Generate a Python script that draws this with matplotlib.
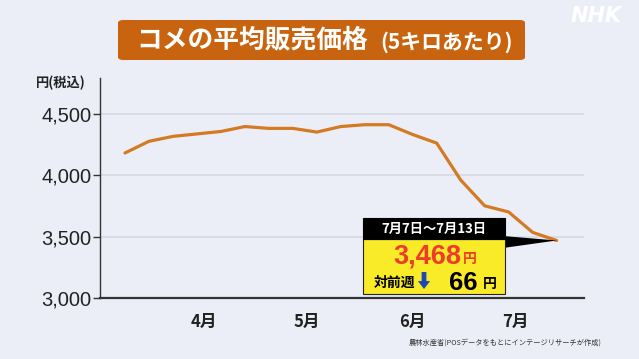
import numpy as np
import pandas as pd
import matplotlib
matplotlib.use("Agg")
import matplotlib.pyplot as plt
import matplotlib.dates as mdates
from matplotlib.patches import FancyBboxPatch, Rectangle, Polygon, FancyArrow

plt.rcParams['font.family'] = ['Noto Sans CJK JP', 'DejaVu Sans']

# weekly average price (5kg, tax incl.), weeks ending on Sunday
week_end = pd.date_range("2025-03-09", "2025-07-13", freq="7D")
price = [4180, 4275, 4315, 4335, 4355, 4395, 4380, 4380, 4350, 4395,
         4410, 4410, 4330, 4260, 3960, 3750, 3700, 3534, 3468]
month_ticks = pd.to_datetime(["2025-04-01", "2025-05-01", "2025-06-01", "2025-07-01"])
month_labels = ["4月", "5月", "6月", "7月"]
y_ticks = [3000, 3500, 4000, 4500]

last_label = "7月7日～7月13日"
diff = price[-2] - price[-1]

W, H = 639, 359
bg = "#ECEEF7"
orange = "#D47A22"
num_font = ['Liberation Sans', 'DejaVu Sans']

fig = plt.figure(figsize=(W / 100, H / 100), dpi=100)
fig.patch.set_facecolor(bg)


def fx(x):
    return x / W


def fy(y):
    return 1 - y / H


ax = fig.add_axes([fx(100), fy(298), fx(584) - fx(100), fy(78) - fy(298)])
ax.set_facecolor(bg)
ax.plot(week_end, price, color=orange, lw=2.3, solid_capstyle="round", zorder=3)

ax.set_ylim(3000, 4790)
ax.set_xlim(week_end[0] - pd.Timedelta(days=7.3), week_end[-1] + pd.Timedelta(days=8))
ax.set_yticks(y_ticks)
ax.set_yticklabels([f"{v:,}" for v in y_ticks], fontsize=14.5, color="#222222",
                   family=num_font)
ax.set_xticks(month_ticks)
ax.set_xticklabels(month_labels, fontsize=12, fontweight="bold", color="#222222")
ax.tick_params(axis="x", length=0, pad=11)
ax.tick_params(axis="y", length=5, width=1, color="#333333", pad=1)
ax.grid(axis="y", color="#D6D9E3", lw=1.2)
ax.set_axisbelow(True)
for s in ["top", "right"]:
    ax.spines[s].set_visible(False)
ax.spines["left"].set_color("#333333")
ax.spines["bottom"].set_color("#333333")
ax.spines["bottom"].set_linewidth(1.6)
ax.spines["left"].set_linewidth(1.0)

fig.text(fx(36), fy(83), "円(税込)", fontsize=9.5, fontweight="bold", color="#222222", va="center")

# title box
fig.add_artist(FancyBboxPatch((fx(118), fy(60)), fx(525) - fx(118), fy(20) - fy(60),
                              boxstyle="round,pad=0,rounding_size=0.008",
                              transform=fig.transFigure, fc="#C8640F", ec="none"))
fig.text(fx(136), fy(40), "コメの平均販売価格", fontsize=18.5, fontweight="bold",
         color="white", va="center")
fig.text(fx(380), fy(42), "(5キロあたり)", fontsize=15, fontweight="bold",
         color="white", va="center")

# NHK logo
fig.text(fx(622), fy(16), "NHK", fontsize=15, fontweight="bold", fontstyle="italic",
         color="white", ha="right", va="center", family="DejaVu Sans")

# source
fig.text(fx(602), fy(343), "農林水産省(POSデータをもとにインテージリサーチが作成)",
         fontsize=5.2, color="#333333", ha="right", va="center")

# callout box
tip = fig.transFigure.inverted().transform(ax.transData.transform(
    (mdates.date2num(week_end[-1]), price[-1])))
fig.add_artist(Polygon([(fx(503), fy(236)), (fx(503), fy(248)), tuple(tip)],
                       closed=True, fc="black", ec="none", transform=fig.transFigure))
fig.add_artist(Rectangle((fx(363), fy(294)), fx(505) - fx(363), fy(239) - fy(294),
                         fc="#FAEB28", ec="#222222", lw=0.8, transform=fig.transFigure))
fig.add_artist(Rectangle((fx(363), fy(239)), fx(505) - fx(363), fy(218) - fy(239),
                         fc="black", ec="black", lw=0.8, transform=fig.transFigure))
fig.text(fx(434), fy(228.5), last_label, fontsize=9.5, fontweight="bold",
         color="white", ha="center", va="center")
fig.text(fx(461), fy(257), f"{price[-1]:,}", fontsize=19.5, fontweight="bold",
         color="#EE3B2B", ha="right", va="center", family=num_font)
fig.text(fx(463), fy(259), "円", fontsize=10, fontweight="bold",
         color="#EE3B2B", ha="left", va="center")
fig.text(fx(374), fy(283), "対前週", fontsize=10, fontweight="bold",
         color="black", ha="left", va="center")
fig.add_artist(FancyArrow(fx(424), fy(272), 0, fy(289) - fy(272), width=0.0075,
                          head_width=0.019, head_length=0.022, length_includes_head=True,
                          fc="#1C47B8", ec="none", transform=fig.transFigure))
fig.text(fx(477), fy(283), f"{diff}", fontsize=18.5, fontweight="bold",
         color="black", ha="right", va="center", family=num_font)
fig.text(fx(483), fy(284), "円", fontsize=10, fontweight="bold",
         color="black", ha="left", va="center")

fig.savefig("out.png", dpi=100, facecolor=bg)
